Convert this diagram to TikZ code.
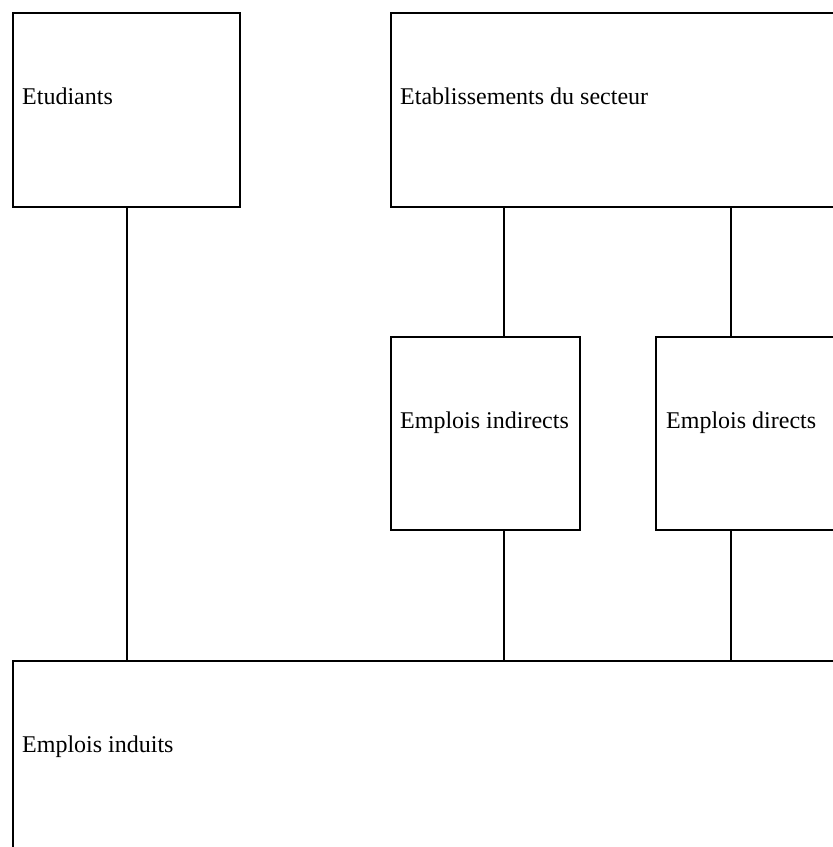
\documentclass[tikz,border=0pt]{standalone}
\usepackage{fontspec}
\setmainfont{Liberation Serif}
\begin{document}
\begin{tikzpicture}[x=1pt,y=-1pt,
  boxst/.style={draw=black, line width=2pt, rectangle, inner sep=0pt},
  lbl/.style={anchor=base west, inner sep=0pt, font=\fontsize{24}{28}\selectfont},
  conn/.style={draw=black, line width=2pt}]
\useasboundingbox (0,0) rectangle (833,847);
\clip (0,0) rectangle (833,847);
% boxes
\node[boxst, minimum width=227pt, minimum height=194pt] (etu) at (126.5,110) {};
\node[boxst, minimum width=455pt, minimum height=194pt] (etab) at (618.5,110) {};
\node[boxst, minimum width=189pt, minimum height=193pt] (ind) at (485.5,433.5) {};
\node[boxst, minimum width=190pt, minimum height=193pt] (dir) at (751,433.5) {};
\node[boxst, minimum width=830pt, minimum height=194pt] (indu) at (428,758) {};
% labels
\node[lbl] (tetu) at (22,104) {Etudiants};
\node[lbl] (tetab) at (400,104) {Etablissements du secteur};
\node[lbl] (tind) at (400,428) {Emplois indirects};
\node[lbl] (tdir) at (666,428) {Emplois directs};
\node[lbl] (tindu) at (22,752) {Emplois induits};
% connector x positions
\coordinate (c1) at (504,0);
\coordinate (c2) at (731,0);
\draw[conn] (etu.south) -- (indu.north -| etu.south);
\draw[conn] (etab.south -| c1) -- (ind.north -| c1);
\draw[conn] (etab.south -| c2) -- (dir.north -| c2);
\draw[conn] (ind.south -| c1) -- (indu.north -| c1);
\draw[conn] (dir.south -| c2) -- (indu.north -| c2);
\end{tikzpicture}
\end{document}
